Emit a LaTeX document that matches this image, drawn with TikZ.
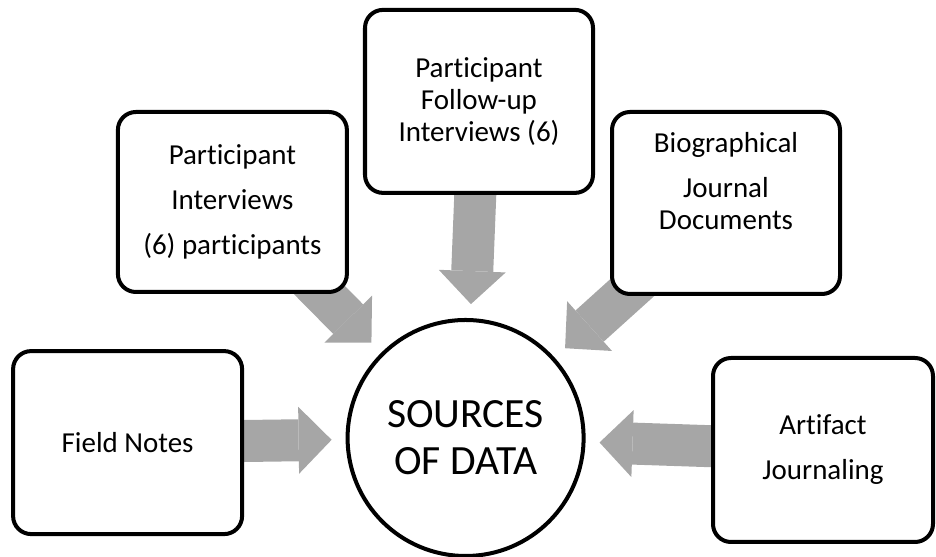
\documentclass[tikz,border=0pt]{standalone}
\usepackage{fontspec}
\setmainfont{Carlito}[Ligatures=NoCommon]
\usetikzlibrary{arrows.meta, backgrounds}
\definecolor{feedgray}{RGB}{166,166,166}

\begin{document}
\begin{tikzpicture}[
		srcbox/.style={draw, line width=2.85pt, rounded corners=0.45cm, fill=white, minimum width=5.7cm, minimum height=4.55cm, align=center, font=\fontsize{20.6}{22.8}\selectfont},
		hub/.style={draw, circle, line width=2.85pt, fill=white, minimum size=5.9cm, align=center, font=\fontsize{29.6}{33.4}\selectfont},
		datafeed/.style={line width=1.05cm, color=feedgray, -{Triangle[width=1.675cm, length=0.825cm, line width=0pt]}, shorten >=0.35cm}
	]
		\useasboundingbox (0,0) rectangle (23.4,13.925);
		% the five sources and the hub
		\node[srcbox, minimum width=5.725cm, minimum height=4.575cm] (fieldnotes) at (3.19,2.86) {Field Notes};
		\node[srcbox, minimum width=5.725cm, minimum height=4.5cm] (interviews) at (5.81,8.875) {Participant\\[9.2pt]Interviews\\[9.2pt](6) participants};
		\node[srcbox, minimum height=4.575cm] (followup) at (11.975,11.39) {Participant\\Follow-up\\Interviews (6)};
		\node[srcbox] (biography) at (18.15,8.85) {Biographical\\[9.2pt]Journal\\Documents\\[9.2pt]\mbox{}};
		\node[srcbox, minimum width=5.5cm, minimum height=4.6cm] (artifact) at (20.575,2.675) {Artifact\\[9.2pt]Journaling};
		\node[hub] (sources) at (11.64,2.975) {SOURCES\\OF DATA};
		% grey block arrows, tails hidden under the boxes
		\begin{scope}[on background layer]
			\draw[datafeed] (fieldnotes.center) -- (sources);
			\draw[datafeed] (interviews.center) -- (sources);
			\draw[datafeed] (followup.center) -- (sources);
			\draw[datafeed] (biography.center) -- (sources);
			\draw[datafeed] (artifact.center) -- (sources);
		\end{scope}
\end{tikzpicture}
\end{document}
